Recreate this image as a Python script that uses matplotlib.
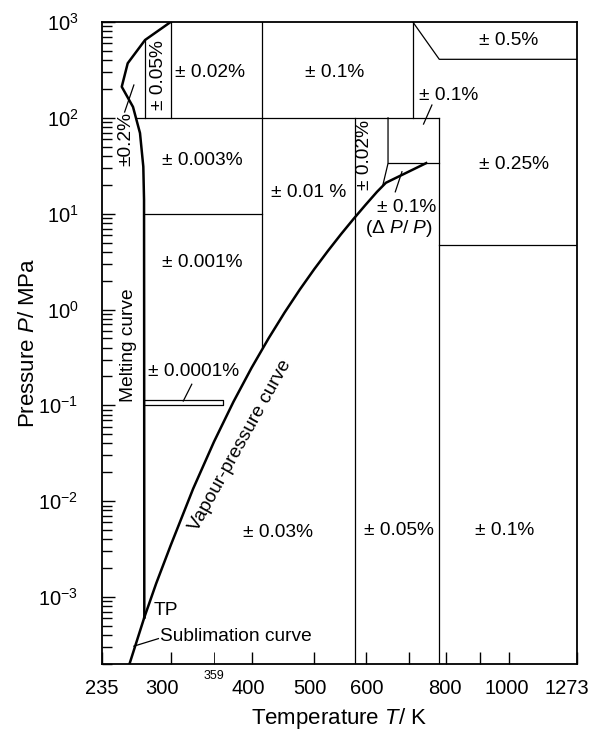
import matplotlib
matplotlib.use('Agg')
import matplotlib.pyplot as plt
import matplotlib.transforms as mtransforms
from matplotlib.ticker import (FixedLocator, FixedFormatter, LogLocator,
                               NullFormatter, LogFormatterSciNotation)

plt.rcParams['font.family'] = 'Liberation Sans'
plt.rcParams['mathtext.fontset'] = 'custom'
plt.rcParams['mathtext.rm'] = 'Liberation Sans'
plt.rcParams['mathtext.it'] = 'Liberation Sans:italic'

# phase boundaries, T in K, P in MPa
melt_T = [273.16, 273.0, 272.9, 272.2, 269.0, 262.4, 252.1, 257.5, 273.9, 300.0]
melt_P = [6.12e-4, 1.0, 13.9, 30.9, 69.4, 130, 211, 371, 649, 1000]
vap_T = [273.16, 285, 300, 325, 350, 375, 400, 425, 450, 475, 500, 525, 550,
         575, 600, 625, 645, 744.5]
vap_P = [6.12e-4, 1.39e-3, 3.45e-3, 0.0135, 0.0417, 0.1086, 0.246, 0.500,
         0.932, 1.617, 2.639, 4.095, 6.117, 8.82, 12.35, 16.9, 21.0, 33.7]
subl_T = [257.5, 273.16]
subl_P = [1.75e-4, 6.12e-4]

# region borders (T list, P list)
borders = [
    ([265.6, 780], [100, 100]),
    ([273.7, 273.7], [100, 649]),
    ([300, 300], [100, 1000]),
    ([415, 415], [0.408, 1000]),
    ([272.9, 415], [10, 10]),
    ([578, 578], [1e-4, 100]),
    ([638.3, 650, 650], [20.0, 33.5, 100]),
    ([650, 780], [33.5, 33.5]),
    ([780, 780], [1e-4, 100]),
    ([710, 710], [100, 1000]),
    ([710, 780, 1273], [1000, 408, 408]),
    ([780, 1273], [4.7, 4.7]),
    ([273.16, 361, 361, 273.16], [0.115, 0.115, 0.102, 0.102]),
]

# leader lines
leaders = [
    ([263.2, 254.7], [220, 115]),
    ([759.8, 737.5], [136, 86.1]),
    ([683, 667], [27.4, 16.9]),
    ([323.4, 313.8], [0.166, 0.111]),
    ([263.2, 287.2], [3.07e-4, 3.68e-4]),
]

# labels: (text, T, P, rotation, ha)
labels = [
    ('± 0.05%', 286.8, 280, 90, 'center'),
    ('± 0.02%', 345.1, 294, 0, 'center'),
    ('± 0.1%', 538.4, 294, 0, 'center'),
    ('± 0.5%', 999, 636, 0, 'center'),
    ('± 0.1%', 806, 173, 0, 'center'),
    ('±0.2%', 255.5, 60, 90, 'center'),
    ('± 0.003%', 336.1, 35.8, 0, 'center'),
    ('± 0.01 %', 489.5, 16.6, 0, 'center'),
    ('± 0.02%', 597, 40.9, 90, 'center'),
    ('± 0.25%', 1018.5, 32.6, 0, 'center'),
    ('± 0.1%', 694.6, 11.6, 0, 'center'),
    ('(Δ $P$/ $P$)', 676.4, 6.99, 0, 'center'),
    ('± 0.001%', 336.1, 3.09, 0, 'center'),
    ('Melting curve', 257.8, 0.425, 90, 'center'),
    ('± 0.0001%', 325.2, 0.225, 0, 'center'),
    ('Vapour-pressure curve', 384, 0.0384, 61, 'center'),
    ('± 0.03%', 440.2, 0.00469, 0, 'center'),
    ('± 0.05%', 674.6, 0.00489, 0, 'center'),
    ('± 0.1%', 985.6, 0.00489, 0, 'center'),
    ('TP', 295.2, 7.28e-4, 0, 'center'),
    ('Sublimation curve', 288.9, 3.9e-4, 0, 'left'),
]

xticks = [235, 300, 400, 500, 600, 700, 800, 900, 1000, 1273]
xticklabels = ['235', '300', '400', '500', '600', '', '800', '', '1000', '1273']
xlabel_shift = [0, -9, -3, -4, 1, 0, -2, 0, -2, -10]
yticks = [1e-3, 1e-2, 1e-1, 1e0, 1e1, 1e2, 1e3]

fig = plt.figure(figsize=(6.01, 7.31), dpi=100)
ax = fig.add_axes([102/601, 67/731, 475/601, 642/731])
ax.set_xscale('log')
ax.set_yscale('log')

for T, P in borders:
    ax.plot(T, P, color='black', lw=0.9)
for T, P in leaders:
    ax.plot(T, P, color='black', lw=0.9)
ax.plot(melt_T, melt_P, color='black', lw=1.8)
ax.plot(vap_T, vap_P, color='black', lw=1.8)
ax.plot(subl_T, subl_P, color='black', lw=1.8)

for txt, T, P, rot, ha in labels:
    ax.text(T, P, txt, rotation=rot, ha=ha, va='center', fontsize=13.8,
            rotation_mode='anchor')

ax.set_xlim(235, 1273)
ax.set_ylim(2.0e-4, 1e3)

ax.xaxis.set_major_locator(FixedLocator(xticks))
ax.xaxis.set_major_formatter(FixedFormatter(xticklabels))
ax.xaxis.set_minor_locator(FixedLocator([350]))
ax.xaxis.set_minor_formatter(FixedFormatter(['359']))
ax.yaxis.set_major_locator(FixedLocator(yticks))
ax.yaxis.set_major_formatter(LogFormatterSciNotation())
ax.yaxis.set_minor_locator(LogLocator(base=10, subs=range(2, 10), numticks=20))
ax.yaxis.set_minor_formatter(NullFormatter())

ax.tick_params(which='both', direction='in', top=False, right=False, width=1)
ax.tick_params(axis='x', which='major', length=9, labelsize=14.5, pad=11)
ax.tick_params(axis='x', which='minor', length=9, width=0.6, labelsize=9, pad=4)
ax.tick_params(axis='y', which='major', length=9, labelsize=14.5, pad=17)
ax.tick_params(axis='y', which='minor', length=7)
for s in ax.spines.values():
    s.set_linewidth(1.3)

for tick, dx in zip(ax.xaxis.get_major_ticks(), xlabel_shift):
    tick.label1.set_transform(tick.label1.get_transform() +
                              mtransforms.ScaledTranslation(dx / 100, 0, fig.dpi_scale_trans))

ax.set_xlabel('Temperature $T$/ K', fontsize=16)
ax.set_ylabel('Pressure $P$/ MPa', fontsize=16)
ax.xaxis.set_label_coords(0.5, -0.066)
ax.yaxis.set_label_coords(-0.133, 0.5)

fig.savefig('out.png', dpi=100)
